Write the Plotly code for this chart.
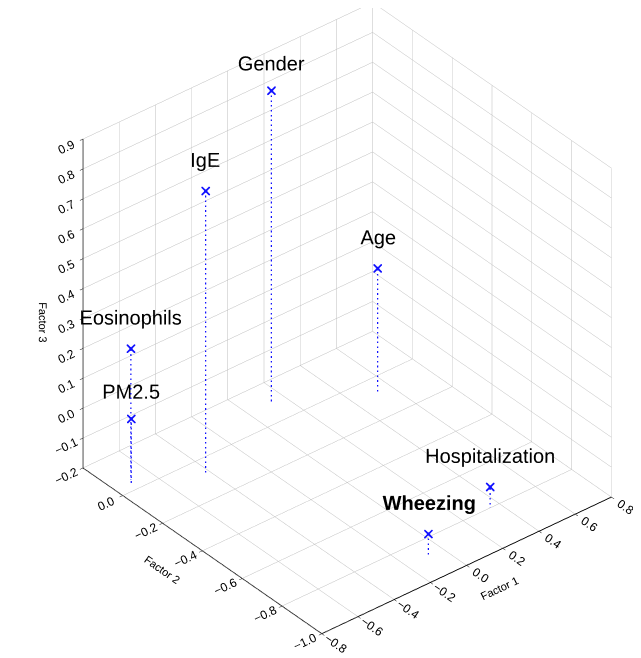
import plotly.graph_objects as go

names = ["Gender", "IgE", "Age", "Eosinophils", "PM2.5", "Hospitalization", "Wheezing"]
factor1 = [0.12, -0.43, 0.52, -0.70, -0.72, 0.35, -0.09]
factor2 = [0.09, -0.08, -0.08, 0.05, 0.03, -0.80, -0.89]
factor3 = [0.85, 0.75, 0.22, 0.24, 0.02, -0.13, -0.12]

x_ticks = [-0.8, -0.6, -0.4, -0.2, 0.0, 0.2, 0.4, 0.6, 0.8]
y_ticks = [0.0, -0.2, -0.4, -0.6, -0.8, -1.0]
z_ticks = [-0.2, -0.1, 0.0, 0.1, 0.2, 0.3, 0.4, 0.5, 0.6, 0.7, 0.8, 0.9]
x_range = [-0.8, 0.8]
y_range = [-1.0, 0.2]
z_range = [-0.2, 0.9]

BLUE = "#1010ff"
fig = go.Figure()

# drop lines to the floor, all in one trace separated by gaps
lx, ly, lz = [], [], []
for i in range(len(names)):
    lx += [factor1[i], factor1[i], None]
    ly += [factor2[i], factor2[i], None]
    lz += [factor3[i], z_range[0], None]
fig.add_trace(go.Scatter3d(x=lx, y=ly, z=lz, mode="lines",
                           line=dict(color=BLUE, width=2.5, dash="dot"),
                           connectgaps=False, showlegend=False, hoverinfo="skip"))

# asterisk-like markers (cross + x)
fig.add_trace(go.Scatter3d(x=factor1, y=factor2, z=factor3, mode="markers",
                           marker=dict(symbol="cross", size=2, color=BLUE),
                           showlegend=False))
fig.add_trace(go.Scatter3d(x=factor1, y=factor2, z=factor3, mode="markers",
                           marker=dict(symbol="x", size=2, color=BLUE),
                           showlegend=False))

labels = [("<b>%s</b>" % n) if n == "Wheezing" else n for n in names]
fig.add_trace(go.Scatter3d(x=factor1, y=factor2, z=factor3, mode="text",
                           text=labels, textposition="top center",
                           textfont=dict(family="Liberation Sans, Arial", size=20, color="black"),
                           showlegend=False, hoverinfo="skip"))

axis_common = dict(
    showbackground=False, gridcolor="#bdbdbd", gridwidth=1,
    showline=True, linecolor="black", linewidth=2,
    zeroline=False, ticks="outside", tickcolor="black", ticklen=4,
    tickfont=dict(family="Liberation Sans, Arial", size=12, color="black"),
    showspikes=False, tickformat=".1f",
)

cx, cy, cz = -0.044, 0.036, -0.070
fig.update_layout(
    width=641, height=658,
    margin=dict(l=0, r=0, t=0, b=0),
    paper_bgcolor="white",
    font=dict(family="Liberation Sans, Arial", color="black"),
    scene=dict(
        domain=dict(x=[0.0, 1.0], y=[0.0, 1.0]),
        xaxis=dict(title=dict(text="Factor 1", font=dict(size=11)), range=x_range,
                   tickvals=x_ticks, **axis_common),
        yaxis=dict(title=dict(text="Factor 2", font=dict(size=11)), range=y_range,
                   tickvals=y_ticks, **axis_common),
        zaxis=dict(title=dict(text="Factor 3", font=dict(size=11)), range=z_range,
                   tickvals=z_ticks, **axis_common),
        aspectmode="manual", aspectratio=dict(x=1.141, y=1.141, z=1.219),
        camera=dict(eye=dict(x=-1.043 + cx, y=-1.265 + cy, z=1.144 + cz),
                    center=dict(x=cx, y=cy, z=cz),
                    up=dict(x=0, y=0, z=1), projection=dict(type="orthographic")),
        bgcolor="white",
    ),
)

fig.write_html("out.html")
